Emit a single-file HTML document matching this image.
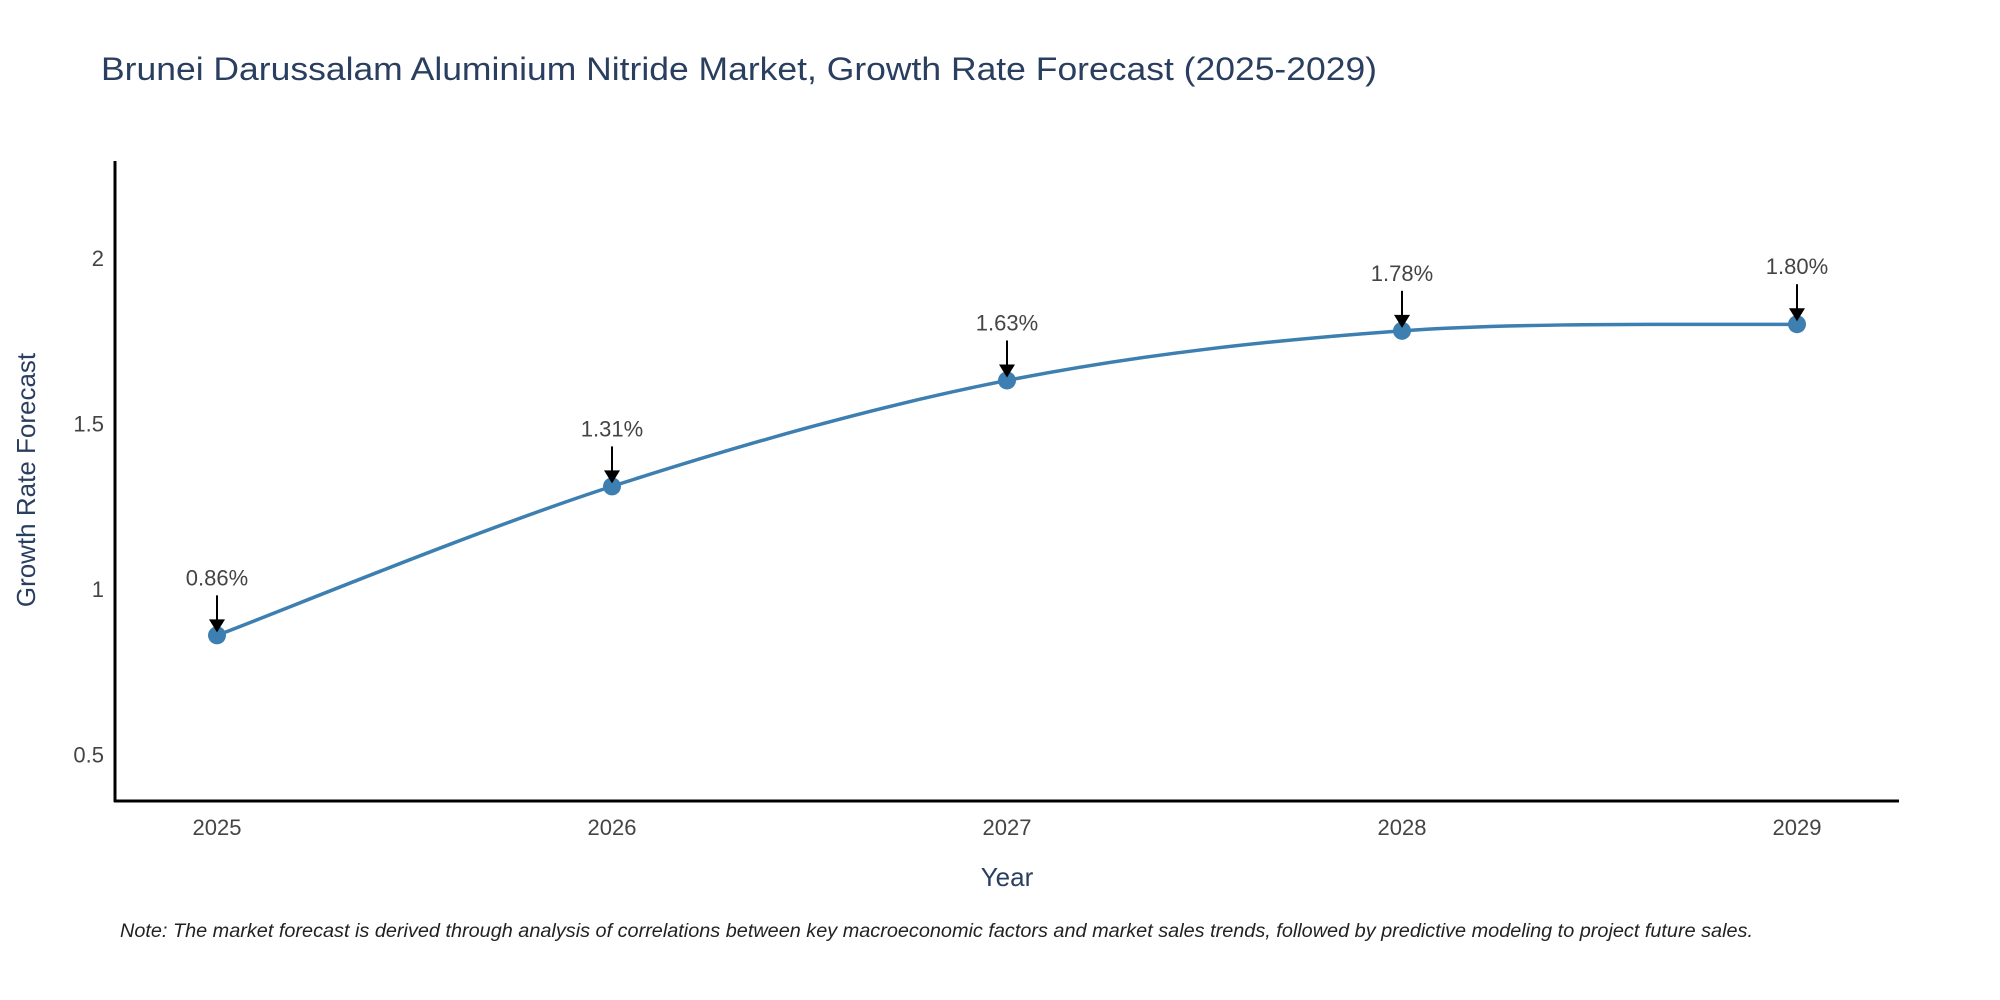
<!DOCTYPE html>
<html><head><meta charset="utf-8"><style>
body{margin:0;background:#fff}
svg{display:block;font-family:"Liberation Sans",sans-serif}
</style></head><body>
<svg id="chart" width="2000" height="1000" viewBox="0 0 2000 1000">
<text x="101" y="80" font-size="32" fill="#2a3f5f" textLength="1276" lengthAdjust="spacingAndGlyphs">Brunei Darussalam Aluminium Nitride Market, Growth Rate Forecast (2025-2029)</text>
<g id="yticks"></g>
<g id="xticks"></g>
<line x1="115" y1="161" x2="115" y2="802" stroke="#000" stroke-width="3"/>
<line x1="114" y1="801" x2="1899" y2="801" stroke="#000" stroke-width="3"/>
<path id="line" fill="none" stroke="#3d7fb0" stroke-width="3.5"/>
<g id="points"></g>
<text x="1007" y="886" font-size="26" fill="#2a3f5f" text-anchor="middle">Year</text>
<text transform="translate(35,480) rotate(-90)" font-size="26" fill="#2a3f5f" text-anchor="middle">Growth Rate Forecast</text>
<text x="120" y="937" font-size="19" font-style="italic" fill="#222" textLength="1633" lengthAdjust="spacingAndGlyphs">Note: The market forecast is derived through analysis of correlations between key macroeconomic factors and market sales trends, followed by predictive modeling to project future sales.</text>
</svg>
<script>
const years=[2025,2026,2027,2028,2029];
const values=[0.86,1.31,1.63,1.78,1.80];
const labels=["0.86%","1.31%","1.63%","1.78%","1.80%"];
const yTicks=[0.5,1,1.5,2];
const NS="http://www.w3.org/2000/svg";
function xs(v){return 217+(v-2025)*395;}
function ys(v){return 920-v*331;}
function mk(tag,attrs,parent){const e=document.createElementNS(NS,tag);for(const k in attrs)e.setAttribute(k,attrs[k]);parent.appendChild(e);return e;}
const yt=document.getElementById('yticks');
yTicks.forEach(t=>{const e=mk('text',{x:104,y:ys(t)+8,'font-size':22,fill:'#444','text-anchor':'end'},yt);


e.textContent=t;});
const xt=document.getElementById('xticks');
years.forEach(t=>{const e=mk('text',{x:xs(t),y:835,'font-size':22,fill:'#444','text-anchor':'middle'},xt);


e.textContent=t;});
const P=years.map((y,i)=>[xs(y),ys(values[i])]);
let d="M"+P[0][0]+","+P[0][1];
for(let i=0;i<P.length-1;i++){const p0=P[Math.max(0,i-1)],p1=P[i],p2=P[i+1],p3=P[Math.min(P.length-1,i+2)];const s=6;
d+=` C${p1[0]+(p2[0]-p0[0])/s},${p1[1]+(p2[1]-p0[1])/s} ${p2[0]-(p3[0]-p1[0])/s},${p2[1]-(p3[1]-p1[1])/s} ${p2[0]},${p2[1]}`;}
document.getElementById('line').setAttribute('d',d);
const pts=document.getElementById('points');
P.forEach((p,i)=>{
const c=mk('circle',{cx:p[0],cy:p[1],r:9,fill:'#3d7fb0'},pts);


const l=mk('line',{x1:p[0],y1:p[1]-40,x2:p[0],y2:p[1]-14,stroke:'#000','stroke-width':2},pts);


const h=mk('polygon',{points:`${p[0]-8},${p[1]-16} ${p[0]+8},${p[1]-16} ${p[0]},${p[1]-3}`,fill:'#000'},pts);


const t=mk('text',{x:p[0],y:p[1]-50,'font-size':22,fill:'#444','text-anchor':'middle'},pts);


t.textContent=labels[i];
});
</script>
</body></html>
